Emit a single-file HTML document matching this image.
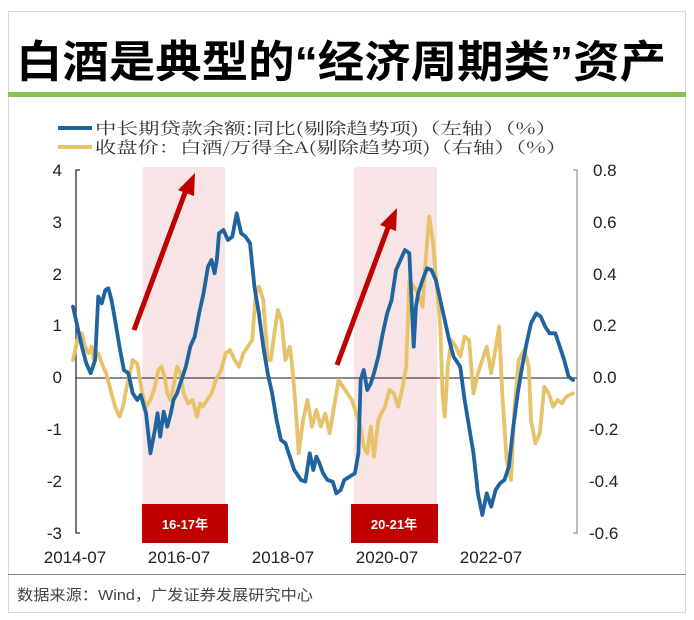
<!DOCTYPE html>
<html><head><meta charset="utf-8"><style>
body{margin:0;background:#fff;width:694px;height:620px;overflow:hidden;font-family:"Liberation Sans","Noto Sans CJK SC",sans-serif}
</style></head><body>
<svg width="694" height="620" xmlns="http://www.w3.org/2000/svg" style="position:absolute;left:0;top:0">
<rect x="8.5" y="11.5" width="677" height="601" fill="none" stroke="#d8d8d8"/>
<text x="16" y="77" font-size="44" font-weight="bold" font-family="Liberation Sans,'Noto Sans CJK SC',sans-serif" fill="#000" textLength="650" lengthAdjust="spacingAndGlyphs">白酒是典型的“经济周期类”资产</text>
<rect x="8" y="92" width="678" height="5" fill="#8cc152"/>
<line x1="58" y1="128" x2="92" y2="128" stroke="#1f63a0" stroke-width="4"/>
<line x1="58" y1="147" x2="92" y2="147" stroke="#e6c36a" stroke-width="4"/>
<text x="95" y="134" font-size="16" fill="#333" font-family="'Noto Serif CJK SC','Noto Sans CJK SC',sans-serif" textLength="462" lengthAdjust="spacingAndGlyphs">中长期贷款余额:同比(剔除趋势项)（左轴）（%）</text>
<text x="95" y="153" font-size="16" fill="#333" font-family="'Noto Serif CJK SC','Noto Sans CJK SC',sans-serif" textLength="472" lengthAdjust="spacingAndGlyphs">收盘价：白酒/万得全A(剔除趋势项)（右轴）（%）</text>
<rect x="142.5" y="167" width="82.5" height="337" fill="#f8e4e4"/>
<rect x="354" y="167" width="83" height="337" fill="#f8e4e4"/>
<rect x="142" y="504" width="86" height="39" fill="#c00000"/>
<rect x="351" y="504" width="87" height="39" fill="#c00000"/>
<text x="185" y="529" font-size="13" font-weight="bold" fill="#fff" text-anchor="middle">16-17年</text>
<text x="394" y="529" font-size="13" font-weight="bold" fill="#fff" text-anchor="middle">20-21年</text>
<path d="M80 170H76V533H80" stroke="#333" stroke-width="1.3" fill="none"/>
<path d="M573 170H577V533H573" stroke="#999" stroke-width="1.3" fill="none"/>
<line x1="75" y1="378" x2="577" y2="378" stroke="#444" stroke-width="1.2"/>
<g font-size="17" fill="#222" text-anchor="end">
<text x="62" y="176">4</text><text x="62" y="228">3</text><text x="62" y="280">2</text><text x="62" y="331">1</text><text x="62" y="383">0</text><text x="62" y="435">-1</text><text x="62" y="487">-2</text><text x="62" y="539">-3</text>
</g>
<g font-size="17" fill="#222">
<text x="593" y="176">0.8</text><text x="593" y="228">0.6</text><text x="593" y="280">0.4</text><text x="593" y="331">0.2</text><text x="593" y="383">0.0</text><text x="589" y="435">-0.2</text><text x="589" y="487">-0.4</text><text x="589" y="539">-0.6</text>
</g>
<g font-size="17" fill="#222" text-anchor="middle">
<text x="75" y="563">2014-07</text><text x="179" y="563">2016-07</text><text x="283" y="563">2018-07</text><text x="387" y="563">2020-07</text><text x="491" y="563">2022-07</text>
</g>
<g transform="translate(0,160) scale(0.4425,0.3333)" fill="none" stroke-linejoin="round" stroke-linecap="round">
<polyline vector-effect="non-scaling-stroke" stroke="#e6c36a" stroke-width="3.8" points="165,600 175,540 185,520 192,560 200,580 207,560 212,600 218,580 222,580 230,610 240,640 250,690 260,740 270,770 278,740 285,690 292,650 300,600 310,610 320,690 330,740 340,720 350,680 358,630 365,620 372,650 378,700 385,720 392,680 400,620 408,640 415,700 425,730 435,720 445,770 452,730 458,740 468,720 478,700 488,660 500,630 510,580 520,570 530,600 540,620 550,580 560,560 570,540 578,400 585,380 595,420 605,600 612,600 620,520 628,450 636,480 645,600 655,560 662,640 668,740 675,880 685,780 695,720 705,800 715,750 725,800 735,760 745,820 755,740 765,660 775,680 785,700 795,720 805,760 815,800 822,860 830,880 838,800 845,890 855,780 862,760 870,740 880,690 890,700 900,740 910,680 918,620 925,360 935,380 945,400 955,440 962,300 970,170 978,240 985,350 995,500 1000,700 1005,770 1012,620 1020,540 1030,560 1040,590 1050,530 1060,540 1070,700 1080,640 1090,600 1100,560 1110,640 1118,580 1128,500 1135,700 1145,900 1155,960 1163,740 1172,600 1185,570 1195,620 1200,780 1210,850 1220,820 1230,680 1240,700 1250,740 1260,720 1270,730 1280,710 1295,700"/>
<polyline vector-effect="non-scaling-stroke" stroke="#1f63a0" stroke-width="3.8" points="165,440 175,500 185,560 195,610 205,640 215,600 222,410 230,430 238,390 245,385 252,420 260,480 270,560 280,630 290,640 300,700 310,720 318,705 330,760 340,880 350,810 356,760 362,830 370,755 378,800 386,760 392,720 400,700 410,660 420,620 430,560 440,530 450,460 460,400 470,320 478,300 485,340 490,300 495,220 505,210 515,240 525,230 535,160 545,220 555,230 565,250 575,380 585,460 595,560 605,640 615,700 625,780 635,840 645,850 655,890 665,930 680,960 690,965 700,880 708,930 715,890 722,910 730,940 740,960 752,965 760,1000 770,990 778,960 790,950 802,940 810,880 815,660 822,630 830,690 838,670 845,640 855,590 865,520 875,460 885,420 895,330 905,300 915,270 925,280 930,420 935,560 940,440 945,400 955,360 965,325 975,330 985,360 995,420 1005,480 1015,540 1025,590 1040,620 1050,720 1060,800 1070,880 1080,1000 1090,1065 1100,1000 1110,1040 1120,990 1130,970 1140,960 1150,920 1160,800 1170,700 1180,620 1190,550 1200,490 1212,460 1222,470 1232,500 1242,520 1255,520 1265,560 1275,600 1285,650 1295,660"/>
</g>
<g stroke="#c00000" stroke-width="5" fill="#c00000">
<line x1="134" y1="330" x2="186" y2="190"/>
<polygon points="195,173 178,190 194,196" stroke="none"/>
<line x1="337" y1="365" x2="389" y2="225"/>
<polygon points="397,208 380,225 396,231" stroke="none"/>
</g>
<line x1="8" y1="574.5" x2="686" y2="574.5" stroke="#888"/>
<text x="17" y="600" font-size="15" fill="#444" textLength="296" lengthAdjust="spacingAndGlyphs">数据来源：Wind，广发证券发展研究中心</text>
</svg>
</body></html>
